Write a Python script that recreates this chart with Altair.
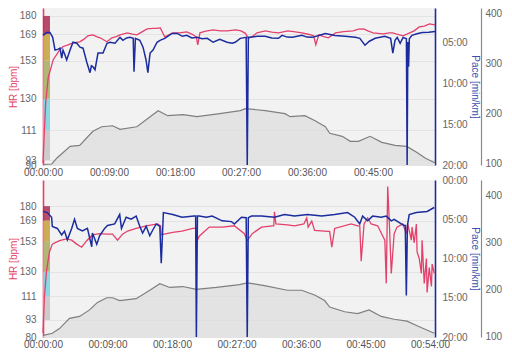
import altair as alt
import pandas as pd

FONT = "Liberation Sans"

# ---------------- data (time in minutes) ----------------
top_hr = [(0, 91), (0.2, 112), (0.37, 128), (0.72, 143), (1.4, 153.6), (2.3, 159.6), (2.7, 161.4),
          (3.4, 162.5), (4.1, 163.8), (5.0, 164.4), (5.6, 166), (6.1, 168), (6.8, 168.6), (7.3, 167.5),
          (7.8, 166.8), (8.7, 164.4), (9.4, 166.8), (10.0, 167.5), (10.5, 168.6), (11.5, 169.8),
          (12.2, 169), (12.8, 168.6), (13.5, 170.4), (14.2, 172.2), (15.0, 172.5), (15.4, 172.5),
          (16.0, 172.8), (16.3, 170), (16.6, 167.4), (17.1, 168.5), (17.7, 169.8), (18.6, 169.8),
          (19.6, 170.4), (20.3, 169), (20.9, 167.4), (21.1, 162.6), (21.4, 169.8), (22.2, 170.8),
          (23.2, 171.6), (24.2, 171), (25.1, 171), (26.3, 171.6), (27.0, 171), (27.6, 169.5),
          (28.0, 166.5), (28.5, 167.5), (29.2, 169.8), (30.3, 171), (31.2, 170.2), (32.1, 169.8),
          (33.4, 171), (34.4, 170.4), (35.3, 169.8), (36.3, 168.8), (36.9, 168), (37.2, 162.6),
          (37.6, 168.6), (38.3, 167.5), (38.9, 166.8), (39.9, 169.8), (41.0, 170.5), (42.3, 171),
          (43.0, 172), (43.7, 172.2), (44.3, 171), (45.0, 169.8), (45.7, 169.5), (46.4, 169.2),
          (47.2, 169.8), (47.7, 169.8), (48.4, 168.8), (49.1, 168), (50.0, 169.8), (50.6, 171),
          (51.3, 173.4), (52.0, 173.8), (52.7, 175.2), (53.45, 174.6)]

top_pace = [(0, 4.2), (0.5, 3.85), (0.95, 3.83), (1.32, 4.43), (1.64, 5.99), (2.0, 5.9), (2.32, 5.75),
            (2.55, 6.95), (2.73, 6.0), (3.0, 6.59), (3.23, 7.19), (3.68, 5.99), (4.09, 5.03), (4.6, 5.15),
            (5.05, 5.63), (5.46, 5.75), (5.96, 7.43), (6.41, 8.74), (6.6, 7.9), (6.82, 8.02), (7.09, 8.38),
            (7.5, 6.35), (8.18, 6.35), (8.73, 5.15), (9.14, 5.03), (9.82, 5.15), (10.5, 4.43), (10.9, 4.79),
            (11.4, 4.5), (11.87, 4.43), (12.3, 4.55), (12.41, 8.62), (12.6, 4.55), (13.2, 4.79),
            (13.64, 5.63), (14.05, 7.19), (14.3, 8.74), (14.6, 6.35), (15.0, 5.99), (15.55, 5.03),
            (15.96, 4.79), (16.6, 4.55), (17.6, 3.95), (18.3, 3.95), (19.0, 4.3), (19.6, 4.19),
            (20.3, 4.5), (21.0, 4.43), (21.7, 4.6), (22.4, 4.55), (23.2, 5.03), (24.1, 4.67),
            (25.1, 5.03), (25.8, 5.15), (26.2, 5.03), (26.9, 4.55), (27.7, 4.43), (27.85, 20),
            (28.0, 4.43), (28.2, 4.43), (29.2, 4.3), (30.3, 4.31), (31.2, 4.5), (32.1, 4.55),
            (32.6, 4.19), (33.3, 4.4), (34.0, 4.43), (35.3, 4.19), (36.0, 4.4), (36.7, 4.43),
            (37.6, 4.2), (38.5, 3.95), (39.8, 4.19), (41.2, 4.3), (42.6, 4.43), (43.2, 4.55),
            (43.9, 5.39), (44.5, 4.9), (45.3, 4.55), (46.6, 4.31), (47.4, 4.55), (47.7, 6.35),
            (48.0, 4.79), (48.3, 4.43), (48.7, 5.15), (49.1, 4.43), (49.55, 4.6), (49.65, 20),
            (49.75, 5.0), (49.85, 8.0), (49.95, 4.6), (50.3, 4.19), (51.0, 4.0), (51.7, 3.83),
            (52.6, 3.8), (53.45, 3.71)]

top_alt = [(0, 99), (1.2, 100), (1.9, 112), (3.7, 135), (5.0, 137), (6.8, 165), (8.0, 174), (9.5, 176),
           (10.5, 169), (12.8, 174), (15.7, 206), (17.0, 196), (19.1, 198), (21.0, 194), (24.1, 200),
           (26.9, 206), (27.6, 210), (30.3, 206), (33.0, 200), (33.7, 194), (35.7, 196), (37.1, 186),
           (38.5, 174), (39.1, 161), (40.8, 155), (41.9, 145), (43.0, 145), (44.6, 155), (46.2, 143),
           (48.0, 137), (49.6, 135), (51.0, 123), (52.1, 112), (53.2, 104), (53.45, 102)]

bot_hr = [(0, 83), (0.2, 111), (0.5, 131), (0.9, 145), (1.3, 151), (2.3, 153.6), (3.3, 155), (4.0, 154),
          (4.7, 151), (5.4, 148.6), (6.1, 153.6), (6.9, 158), (7.9, 159), (8.9, 158.6), (9.7, 158.6),
          (10.4, 154), (11.1, 158.6), (11.8, 161), (13.0, 163), (14.4, 165), (16.0, 166.4), (16.4, 165),
          (16.5, 158), (16.9, 158.6), (18.1, 160), (19.4, 161), (20.9, 163), (21.3, 163), (21.4, 152),
          (21.8, 157), (23.2, 164), (25.0, 164), (26.7, 165), (28.1, 159), (28.5, 153.6), (29.2, 159),
          (30.5, 164), (32.0, 165), (32.2, 165), (32.3, 175.7), (32.5, 166.4), (34.1, 165.7),
          (35.1, 165), (36.4, 166.4), (36.8, 171), (37.0, 164), (37.5, 168.6), (37.9, 161.4),
          (39.7, 160.7), (40.0, 160.7), (40.3, 148.6), (40.7, 163), (43.0, 166.4), (43.9, 165),
          (44.2, 165), (44.4, 138), (44.8, 166.4), (45.3, 171), (45.8, 166.4), (46.7, 165),
          (47.7, 154), (47.9, 121), (48.1, 195), (48.3, 171), (48.6, 128.6), (49.0, 159), (49.4, 164),
          (50.2, 166.4), (50.7, 159), (50.9, 166.4), (51.1, 161.4), (51.4, 154), (51.5, 164),
          (51.8, 152), (52.1, 166.4), (52.2, 145), (52.5, 140), (52.8, 128.6), (52.9, 154),
          (53.2, 121), (53.5, 140), (53.6, 114), (53.9, 133), (54.2, 118.6), (54.3, 135.7),
          (54.6, 128.6)]

bot_pace = [(0, 4.0), (0.6, 4.15), (1.2, 4.74), (1.3, 5.93), (2.0, 6.17), (2.6, 7.0), (3.0, 6.5),
            (3.4, 7.6), (4.0, 6.17), (4.4, 5.0), (4.8, 6.17), (5.5, 6.5), (6.2, 6.17), (6.8, 8.5),
            (6.9, 6.76), (7.5, 8.2), (7.9, 7.1), (8.6, 6.17), (9.0, 5.8), (10.0, 5.6), (10.7, 4.4),
            (10.95, 6.17), (11.6, 4.74), (12.3, 5.0), (13.0, 4.6), (13.5, 5.9), (13.9, 6.76),
            (14.4, 5.9), (14.9, 7.1), (15.3, 6.4), (15.8, 5.6), (16.3, 5.9), (16.5, 10.6), (16.8, 4.15),
            (18.1, 4.4), (19.4, 4.74), (21.1, 4.6), (21.3, 4.6), (21.4, 20), (21.55, 4.6), (21.8, 4.6),
            (22.8, 4.74), (23.6, 4.6), (25.0, 5.2), (26.3, 5.3), (26.7, 5.6), (27.7, 4.74),
            (28.35, 4.8), (28.5, 20), (28.65, 4.8), (29.1, 4.6), (30.5, 4.6), (32.3, 4.74),
            (33.7, 4.4), (35.1, 4.6), (36.9, 4.4), (38.9, 4.6), (40.7, 4.4), (42.5, 4.15),
            (43.5, 4.74), (44.2, 5.6), (44.6, 4.6), (45.3, 5.2), (46.0, 4.6), (47.2, 4.74),
            (47.9, 4.6), (48.6, 5.2), (49.0, 5.0), (50.0, 5.6), (50.4, 5.8), (50.55, 5.8),
            (50.7, 14.7), (50.85, 5.8), (51.1, 4.4), (52.1, 4.15), (53.6, 4.0), (54.4, 3.6),
            (54.6, 3.5)]

bot_alt = [(0, 101), (0.2, 102), (1.3, 106), (2.3, 116), (3.7, 138), (5.1, 142), (6.5, 156), (7.6, 172),
           (8.9, 182), (9.7, 182), (10.7, 176), (13.0, 180), (14.9, 198), (16.3, 212), (17.7, 204),
           (19.5, 206), (21.4, 200), (24.2, 204), (27.4, 210), (28.5, 214), (30.9, 208), (34.1, 198),
           (36.1, 198), (37.9, 188), (39.3, 176), (40.0, 162), (42.1, 152), (43.9, 148), (45.5, 156),
           (47.2, 142), (49.0, 136), (50.8, 132), (52.2, 122), (54.6, 106)]

zone_lo = [93, 111, 130, 153, 169]
zone_hi = [111, 130, 153, 169, 180]
zone_col = ["#c8c8c8", "#7fd4e2", "#abb067", "#c9a545", "#b1385c"]

x_ticks_top = [0, 9, 18, 27, 36, 45]
x_ticks_bot = [0, 9, 18, 27, 36, 45, 54]
hr_ticks_top = [90, 93, 111, 130, 153, 169, 180]
hr_ticks_bot = [80, 93, 111, 130, 153, 169, 180]
pace_ticks_top = [5, 10, 15, 20]
pace_ticks_bot = [0, 5, 10, 15, 20]
alt_ticks = [100, 200, 300, 400]

HR_COL = "#e3416c"
PACE_COL = "#1b2c9e"


def panel(hr, pace, altd, x_max, x_ticks, hr_dom, hr_ticks, pace_dom, pace_ticks, alt_dom, h):
    xs = alt.Scale(domain=[0, x_max], nice=False, zero=False)
    xa = alt.Axis(values=x_ticks, title=None, domain=False, ticks=False, grid=False,
                  labelFlush=False, labelPadding=2, labelColor="#555",
                  labelExpr="'00:' + (datum.value < 10 ? '0' : '') + datum.value + ':00'")
    X = alt.X("t:Q", scale=xs, axis=xa)

    df_alt = pd.DataFrame(altd, columns=["t", "v"])
    df_hr = pd.DataFrame(hr, columns=["t", "v"])
    df_pace = pd.DataFrame(pace, columns=["t", "v"])
    df_z = pd.DataFrame({"lo": zone_lo, "hi": zone_hi, "c": zone_col})

    hr_scale = alt.Scale(domain=hr_dom, nice=False, zero=False)

    area = alt.Chart(df_alt).mark_area(
        color="#dddddd", line=alt.OverlayMarkDef(color="#7f7f7f", strokeWidth=1.2)
    ).encode(
        x=X,
        y=alt.Y("v:Q", scale=alt.Scale(domain=alt_dom, nice=False, zero=False),
                axis=alt.Axis(orient="right", offset=46, values=alt_ticks, title=None, grid=False,
                              ticks=False, domainColor="#8a8a8a", domainWidth=1.2,
                              labelPadding=4, labelColor="#666")),
        y2=alt.datum(alt_dom[0]),
    )

    zones = alt.Chart(df_z).mark_rect(opacity=0.9).encode(
        x=alt.value(0), x2=alt.value(7),
        y=alt.Y("lo:Q", scale=hr_scale, axis=None),
        y2="hi:Q",
        color=alt.Color("c:N", scale=None),
    )

    hr_line = alt.Chart(df_hr).mark_line(color=HR_COL, strokeWidth=1.3).encode(
        x=X,
        y=alt.Y("v:Q", scale=hr_scale,
                axis=alt.Axis(orient="left", values=hr_ticks, title="HR [bpm]", grid=True,
                              gridColor="#e3e3e3", gridWidth=1, ticks=False, domainColor=HR_COL,
                              domainWidth=1.6, labelOverlap=False, labelPadding=7, titlePadding=1,
                              titleColor=HR_COL, labelColor="#666")),
    )

    pace_line = alt.Chart(df_pace).mark_line(color=PACE_COL, strokeWidth=1.5).encode(
        x=X,
        y=alt.Y("v:Q", scale=alt.Scale(domain=pace_dom, reverse=True, nice=False, zero=False),
                axis=alt.Axis(orient="right", values=pace_ticks, title="Pace [min/km]", grid=False,
                              ticks=False, domainColor=PACE_COL, domainWidth=1.6,
                              labelPadding=7, titlePadding=2, titleColor="#3a4fae",
                              labelColor="#666",
                              labelExpr="(datum.value < 10 ? '0' : '') + datum.value + ':00'")),
    )

    return alt.layer(area, zones, hr_line, pace_line).resolve_scale(y="independent").properties(
        width=392, height=h)


top = panel(top_hr, top_pace, top_alt, 53.45, x_ticks_top, [90, 184.8], hr_ticks_top,
            [0.85, 20], pace_ticks_top, [98, 410], 157)
bot = panel(bot_hr, bot_pace, bot_alt, 54.7, x_ticks_bot, [80, 200], hr_ticks_bot,
            [0, 20], pace_ticks_bot, [98, 434], 157)

chart = alt.vconcat(top, bot, spacing=-2).properties(padding=0, background="white").configure_view(
    fill="#f2f2f2", strokeWidth=0
).configure_axis(
    labelFont=FONT, titleFont=FONT, labelFontSize=10, titleFontSize=10, titleFontWeight="normal"
)

chart.save("out.html", embed_options={"renderer": "svg", "actions": False})
